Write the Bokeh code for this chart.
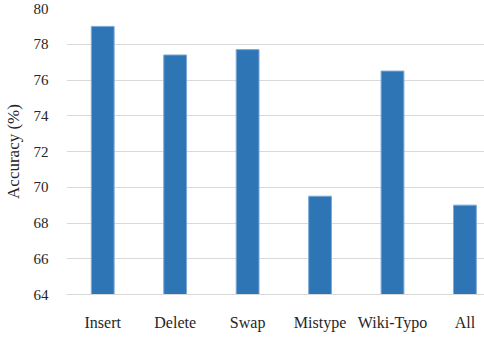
from bokeh.plotting import figure
from bokeh.models import Range1d, FixedTicker, ColumnDataSource
from bokeh.embed import file_html
from bokeh.resources import INLINE

categories = ["Insert", "Delete", "Swap", "Mistype", "Wiki-Typo", "All"]
accuracy = [79.0, 77.4, 77.7, 69.5, 76.5, 69.0]
y_ticks = [64, 66, 68, 70, 72, 74, 76, 78, 80]

xs = [i + 0.5 for i in range(len(categories))]
source = ColumnDataSource(dict(x=xs, top=accuracy, cat=categories))

FONT = "Liberation Serif"

p = figure(width=484, height=356, output_backend="svg", toolbar_location=None,
           x_range=Range1d(0, 5.77), y_range=Range1d(64, 80),
           min_border_top=8, min_border_right=0, min_border_left=53,
           min_border_bottom=62)
p.outline_line_color = None
p.background_fill_color = "white"
p.border_fill_color = "white"

p.vbar(x="x", top="top", bottom=64, width=0.315, source=source,
       fill_color="#2E75B6", line_color="#7FA9D6", line_width=1)

# y axis
p.yaxis.ticker = FixedTicker(ticks=y_ticks)
p.yaxis.major_label_overrides = {t: str(t) for t in y_ticks}
p.yaxis.axis_line_color = None
p.yaxis.major_tick_line_color = None
p.yaxis.minor_tick_line_color = None
p.yaxis.major_label_standoff = 12
p.yaxis.major_label_text_font = "Times New Roman, Liberation Serif, serif"
p.yaxis.major_label_text_font_size = "15px"
p.yaxis.major_label_text_color = "#262626"
p.yaxis.axis_label = "Accuracy (%)"
p.yaxis.axis_label_text_font = FONT
p.yaxis.axis_label_text_font_size = "17px"
p.yaxis.axis_label_text_font_style = "normal"
p.yaxis.axis_label_text_color = "#262626"
p.yaxis.axis_label_standoff = 8

# x axis
p.xaxis.ticker = FixedTicker(ticks=xs)
p.xaxis.major_label_overrides = {x: c for x, c in zip(xs, categories)}
p.xaxis.axis_line_color = "#D9D9D9"
p.xaxis.major_tick_line_color = None
p.xaxis.minor_tick_line_color = None
p.xaxis.major_label_standoff = 13
p.xaxis.major_label_text_font = FONT
p.xaxis.major_label_text_font_size = "16px"
p.xaxis.major_label_text_color = "#262626"

p.xgrid.grid_line_color = None
p.ygrid.ticker = FixedTicker(ticks=y_ticks)
p.ygrid.grid_line_color = "#D9D9D9"
p.ygrid.grid_line_width = 1

open("out.html", "w").write(file_html(p, INLINE))
